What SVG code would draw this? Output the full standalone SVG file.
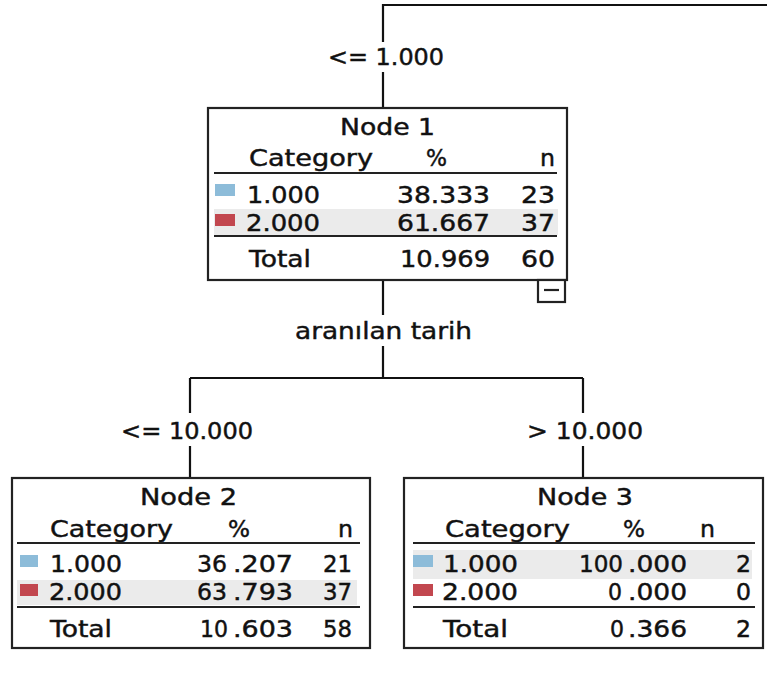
<svg xmlns="http://www.w3.org/2000/svg" width="767" height="675" viewBox="0 0 767 675">
<style>
  text { font-family: "DejaVu Sans", "Liberation Sans", sans-serif; font-size: 23px; fill: #111; stroke: #111; stroke-width: 0.45; }
  .box { fill: #ffffff; stroke: #222; stroke-width: 2.2; }
  .rule { stroke: #222; stroke-width: 2.2; }
  .band { fill: #ebebeb; }
  .c1 { fill: #8dbcd9; }
  .c2 { fill: #c2474f; }
  .edge { fill: none; stroke: #111; stroke-width: 2.2; }
</style>
<rect width="767" height="675" fill="#ffffff"/>

<g id="connectors">
  <path class="edge" d="M767,5 H383 V42 M383,72 V108"/>
  <path class="edge" d="M383,281 V315 M383,346 V378"/>
  <path class="edge" d="M190,378 H583"/>
  <path class="edge" d="M190,378 V413 M190,446 V478"/>
  <path class="edge" d="M583,378 V413 M583,446 V478"/>
  <text x="328" y="65" textLength="116" lengthAdjust="spacingAndGlyphs">&lt;= 1.000</text>
  <text x="295" y="339" textLength="177" lengthAdjust="spacingAndGlyphs">aranılan tarih</text>
  <text x="121" y="439" textLength="132" lengthAdjust="spacingAndGlyphs">&lt;= 10.000</text>
  <text x="527" y="439" textLength="116" lengthAdjust="spacingAndGlyphs">&gt; 10.000</text>
</g>

<g id="node1">
  <rect class="box" x="208" y="108" width="359" height="172"/>
  <rect class="band" x="214" y="209" width="344" height="26"/>
  <text x="340" y="135" textLength="95" lengthAdjust="spacingAndGlyphs">Node 1</text>
  <text x="249" y="166" textLength="124" lengthAdjust="spacingAndGlyphs">Category</text>
  <text x="426" y="166" textLength="21" lengthAdjust="spacingAndGlyphs">%</text>
  <text x="540" y="166" textLength="15" lengthAdjust="spacingAndGlyphs">n</text>
  <line class="rule" x1="214" y1="173" x2="557" y2="173"/>
  <rect class="c1" x="215" y="184" width="20" height="12"/>
  <text x="247" y="203" textLength="73" lengthAdjust="spacingAndGlyphs">1.000</text>
  <text x="397" y="203" textLength="93" lengthAdjust="spacingAndGlyphs">38.333</text>
  <text x="521" y="203" textLength="34" lengthAdjust="spacingAndGlyphs">23</text>
  <rect class="c2" x="215" y="214" width="20" height="12"/>
  <text x="246" y="231" textLength="74" lengthAdjust="spacingAndGlyphs">2.000</text>
  <text x="397" y="231" textLength="93" lengthAdjust="spacingAndGlyphs">61.667</text>
  <text x="521" y="231" textLength="34" lengthAdjust="spacingAndGlyphs">37</text>
  <line class="rule" x1="214" y1="236" x2="557" y2="236"/>
  <text x="249" y="267" textLength="62" lengthAdjust="spacingAndGlyphs">Total</text>
  <text x="400" y="267" textLength="90" lengthAdjust="spacingAndGlyphs">10.969</text>
  <text x="521" y="267" textLength="34" lengthAdjust="spacingAndGlyphs">60</text>
  <rect class="box" x="538" y="280" width="27" height="22"/>
  <line class="rule" x1="544" y1="290" x2="559" y2="290"/>
</g>

<g id="node2">
  <rect class="box" x="12" y="478" width="358" height="170"/>
  <rect class="band" x="17" y="580" width="340" height="25"/>
  <text x="140" y="505" textLength="97" lengthAdjust="spacingAndGlyphs">Node 2</text>
  <text x="50" y="537" textLength="123" lengthAdjust="spacingAndGlyphs">Category</text>
  <text x="228" y="537" textLength="22" lengthAdjust="spacingAndGlyphs">%</text>
  <text x="338" y="537" textLength="15" lengthAdjust="spacingAndGlyphs">n</text>
  <line class="rule" x1="17" y1="543" x2="360" y2="543"/>
  <rect class="c1" x="20" y="555" width="18" height="12"/>
  <text x="50" y="572" textLength="72" lengthAdjust="spacingAndGlyphs">1.000</text>
  <text y="572"><tspan x="197" textLength="30" lengthAdjust="spacingAndGlyphs">36</tspan><tspan x="233" textLength="60" lengthAdjust="spacingAndGlyphs">.207</tspan></text>
  <text x="323" y="572" textLength="29" lengthAdjust="spacingAndGlyphs">21</text>
  <rect class="c2" x="20" y="584" width="18" height="12"/>
  <text x="49" y="600" textLength="73" lengthAdjust="spacingAndGlyphs">2.000</text>
  <text y="600"><tspan x="197" textLength="30" lengthAdjust="spacingAndGlyphs">63</tspan><tspan x="233" textLength="60" lengthAdjust="spacingAndGlyphs">.793</tspan></text>
  <text x="323" y="600" textLength="29" lengthAdjust="spacingAndGlyphs">37</text>
  <line class="rule" x1="17" y1="607" x2="360" y2="607"/>
  <text x="50" y="637" textLength="62" lengthAdjust="spacingAndGlyphs">Total</text>
  <text y="637"><tspan x="200" textLength="28" lengthAdjust="spacingAndGlyphs">10</tspan><tspan x="233" textLength="60" lengthAdjust="spacingAndGlyphs">.603</tspan></text>
  <text x="323" y="637" textLength="29" lengthAdjust="spacingAndGlyphs">58</text>
</g>

<g id="node3">
  <rect class="box" x="404" y="478" width="359" height="170"/>
  <rect class="band" x="413" y="550" width="339" height="29"/>
  <text x="537" y="505" textLength="96" lengthAdjust="spacingAndGlyphs">Node 3</text>
  <text x="445" y="537" textLength="125" lengthAdjust="spacingAndGlyphs">Category</text>
  <text x="623" y="537" textLength="22" lengthAdjust="spacingAndGlyphs">%</text>
  <text x="700" y="537" textLength="15" lengthAdjust="spacingAndGlyphs">n</text>
  <line class="rule" x1="413" y1="543" x2="755" y2="543"/>
  <rect class="c1" x="413" y="555" width="20" height="12"/>
  <text x="443" y="572" textLength="75" lengthAdjust="spacingAndGlyphs">1.000</text>
  <text y="572"><tspan x="579" textLength="44" lengthAdjust="spacingAndGlyphs">100</tspan><tspan x="628" textLength="59" lengthAdjust="spacingAndGlyphs">.000</tspan></text>
  <text x="736" y="572" textLength="15" lengthAdjust="spacingAndGlyphs">2</text>
  <rect class="c2" x="413" y="584" width="20" height="12"/>
  <text x="442" y="600" textLength="76" lengthAdjust="spacingAndGlyphs">2.000</text>
  <text y="600"><tspan x="608" textLength="14" lengthAdjust="spacingAndGlyphs">0</tspan><tspan x="628" textLength="59" lengthAdjust="spacingAndGlyphs">.000</tspan></text>
  <text x="736" y="600" textLength="15" lengthAdjust="spacingAndGlyphs">0</text>
  <line class="rule" x1="413" y1="607" x2="755" y2="607"/>
  <text x="443" y="637" textLength="65" lengthAdjust="spacingAndGlyphs">Total</text>
  <text y="637"><tspan x="610" textLength="14" lengthAdjust="spacingAndGlyphs">0</tspan><tspan x="628" textLength="59" lengthAdjust="spacingAndGlyphs">.366</tspan></text>
  <text x="736" y="637" textLength="15" lengthAdjust="spacingAndGlyphs">2</text>
</g>
</svg>
